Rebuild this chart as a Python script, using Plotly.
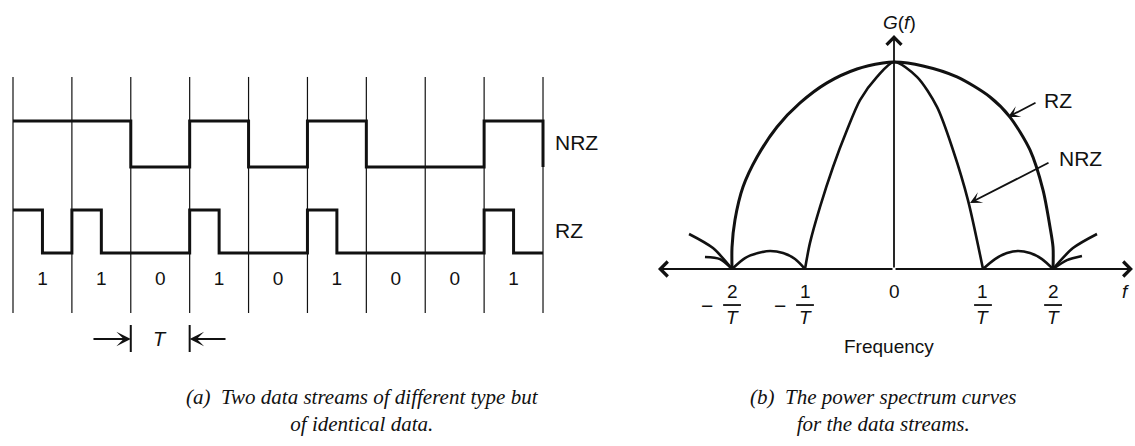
import plotly.graph_objects as go

# ---------------- data ----------------
BITS = [1, 1, 0, 1, 0, 1, 0, 0, 1]

# power spectrum curves (f in drawing units, 1/T = 1 ; G normalised to peak)
RZ_F = [-1.82, -1.82, -1.787, -1.697, -1.539, -1.315, -1.056, -0.753, -0.416, -0.124, 0.0,
        0.326, 0.708, 1.079, 1.303, 1.528, 1.674, 1.753, 1.787, 1.787]
RZ_G = [0.0, 0.106, 0.237, 0.396, 0.541, 0.686, 0.802, 0.899, 0.966, 0.995, 1.0,
        0.981, 0.928, 0.831, 0.734, 0.575, 0.382, 0.203, 0.106, 0.0]

NRZ_F = [-1.0, -0.944, -0.831, -0.685, -0.528, -0.382, -0.191, 0.0,
         0.258, 0.483, 0.663, 0.831, 1.0]
NRZ_G = [0.0, 0.126, 0.300, 0.493, 0.671, 0.816, 0.928, 1.0,
         0.928, 0.783, 0.575, 0.333, 0.0]

LOBE_L_F = [-1.82, -1.674, -1.528, -1.393, -1.247, -1.112, -1.0]
LOBE_L_G = [0.0, 0.053, 0.077, 0.087, 0.077, 0.048, 0.0]
LOBE_R_F = [1.0, 1.135, 1.270, 1.393, 1.528, 1.663, 1.787]
LOBE_R_G = [0.0, 0.048, 0.077, 0.087, 0.077, 0.048, 0.0]

OUT_L1_F = [-2.303, -2.034, -1.82]
OUT_L1_G = [0.169, 0.101, 0.0]
OUT_L2_F = [-2.124, -1.955, -1.82]
OUT_L2_G = [0.058, 0.048, 0.0]
OUT_R1_F = [1.787, 2.011, 2.281]
OUT_R1_G = [0.0, 0.101, 0.169]
OUT_R2_F = [1.787, 1.944, 2.112]
OUT_R2_G = [0.0, 0.043, 0.063]

TICK_F = [-1.82, -1.0, 0.0, 1.0, 1.787]
TICK_SIGN = ["\u2212", "\u2212", "", "", ""]
TICK_NUM = ["2", "1", "0", "1", "2"]
TICK_DEN = ["T", "T", "", "T", "T"]

# ---------------- styling constants ----------------
W, H = 1135, 446
SANS = "Liberation Sans, Arial, sans-serif"
SERIF = "Liberation Serif, Times New Roman, serif"
INK = "#111111"

RZ_BASE = -1.87
RZ_AMP = 0.935
GRID_TOP, GRID_BOT = 1.957, -3.174
LABEL_Y = -2.457
T_Y = -3.74

fig = go.Figure()

# ---------- panel (a): waveforms ----------
n = len(BITS)
gx, gy = [], []
for i in range(n + 1):
    gx += [i, i, None]
    gy += [GRID_TOP, GRID_BOT, None]
fig.add_trace(go.Scatter(x=gx, y=gy, mode="lines", line=dict(color=INK, width=1.2),
                         xaxis="x", yaxis="y", hoverinfo="skip"))

# NRZ
nx = list(range(n)) + [n, n]
ny = [b * 1.0 for b in BITS] + [BITS[-1] * 1.0, 0.0]
fig.add_trace(go.Scatter(x=nx, y=ny, mode="lines", line=dict(color=INK, width=3, shape="hv"),
                         xaxis="x", yaxis="y"))

# RZ
rx, ry = [], []
for i, b in enumerate(BITS):
    rx += [i, i + 0.5]
    ry += [RZ_BASE + RZ_AMP * b, RZ_BASE]
rx.append(n)
ry.append(RZ_BASE)
fig.add_trace(go.Scatter(x=rx, y=ry, mode="lines", line=dict(color=INK, width=3, shape="hv"),
                         xaxis="x", yaxis="y"))

# bit labels
fig.add_trace(go.Scatter(x=[i + 0.5 for i in range(n)], y=[LABEL_Y] * n, mode="text",
                         text=[str(b) for b in BITS],
                         textfont=dict(family=SANS, size=19, color=INK),
                         xaxis="x", yaxis="y"))

# T markers
fig.add_trace(go.Scatter(x=[2, 2, None, 3, 3], y=[-3.435, -4.022, None, -3.435, -4.022],
                         mode="lines", line=dict(color=INK, width=2), xaxis="x", yaxis="y"))

annotations = []
annotations.append(dict(x=9.17, y=0.543, xref="x", yref="y", text="NRZ", showarrow=False,
                        xanchor="left", yanchor="middle", font=dict(family=SANS, size=21, color=INK)))
annotations.append(dict(x=9.17, y=-1.37, xref="x", yref="y", text="RZ", showarrow=False,
                        xanchor="left", yanchor="middle", font=dict(family=SANS, size=21, color=INK)))
annotations.append(dict(x=2.5, y=T_Y, xref="x", yref="y", text="<i>T</i>", showarrow=False,
                        font=dict(family=SANS, size=20, color=INK)))
for head, tail in [(2.0, 1.341), (3.0, 3.634)]:
    annotations.append(dict(x=head, y=T_Y, ax=tail, ay=T_Y, xref="x", yref="y", axref="x", ayref="y",
                            text="", showarrow=True, arrowhead=3, arrowsize=1.2, arrowwidth=2,
                            arrowcolor=INK, standoff=0))

# ---------- panel (b): spectrum ----------
def curve(fx, gy_, w):
    fig.add_trace(go.Scatter(x=fx, y=gy_, mode="lines",
                             line=dict(color=INK, width=w, shape="spline", smoothing=0.8),
                             xaxis="x2", yaxis="y2"))

curve(RZ_F, RZ_G, 3)
curve(NRZ_F, NRZ_G, 2.6)
curve(LOBE_L_F, LOBE_L_G, 2.6)
curve(LOBE_R_F, LOBE_R_G, 2.6)
curve(OUT_L1_F, OUT_L1_G, 2.6)
curve(OUT_L2_F, OUT_L2_G, 2.6)
curve(OUT_R1_F, OUT_R1_G, 2.6)
curve(OUT_R2_F, OUT_R2_G, 2.6)

# axes with arrows
for hx, hy in [(-2.652, 0.0), (2.685, 0.0), (0.0, 1.13)]:
    annotations.append(dict(x=hx, y=hy, ax=0.0, ay=0.0, xref="x2", yref="y2", axref="x2", ayref="y2",
                            text="", showarrow=True, arrowhead=4, arrowsize=1.6, arrowwidth=1.8,
                            arrowcolor=INK, standoff=0))

# pointer arrows
annotations.append(dict(x=1.281, y=0.734, ax=1.607, ay=0.807, xref="x2", yref="y2", axref="x2", ayref="y2",
                        text="", showarrow=True, arrowhead=3, arrowsize=1.1, arrowwidth=1.8,
                        arrowcolor=INK, standoff=0))
annotations.append(dict(x=0.854, y=0.319, ax=1.753, ay=0.517, xref="x2", yref="y2", axref="x2", ayref="y2",
                        text="", showarrow=True, arrowhead=3, arrowsize=1.1, arrowwidth=1.8,
                        arrowcolor=INK, standoff=0))
annotations.append(dict(x=1.663, y=0.816, xref="x2", yref="y2", text="RZ", showarrow=False,
                        xanchor="left", yanchor="middle", font=dict(family=SANS, size=21, color=INK)))
annotations.append(dict(x=1.831, y=0.536, xref="x2", yref="y2", text="NRZ", showarrow=False,
                        xanchor="left", yanchor="middle", font=dict(family=SANS, size=21, color=INK)))

annotations.append(dict(x=0.067, y=1.193, xref="x2", yref="y2", text="<i>G</i>(<i>f</i>)", showarrow=False,
                        font=dict(family=SANS, size=19, color=INK)))
annotations.append(dict(x=-0.056, y=-0.372, xref="x2", yref="y2", text="Frequency", showarrow=False,
                        font=dict(family=SANS, size=19, color=INK)))
annotations.append(dict(x=2.6, y=-0.111, xref="x2", yref="y2", text="<i>f</i>", showarrow=False,
                        font=dict(family=SANS, size=19, color=INK)))

# tick labels as fractions
shapes = []
for f, s, num, den in zip(TICK_F, TICK_SIGN, TICK_NUM, TICK_DEN):
    if den:
        annotations.append(dict(x=f, y=-0.111, xref="x2", yref="y2", text=num, showarrow=False,
                                font=dict(family=SANS, size=19, color=INK)))
        annotations.append(dict(x=f, y=-0.232, xref="x2", yref="y2", text="<i>" + den + "</i>",
                                showarrow=False, font=dict(family=SANS, size=19, color=INK)))
        shapes.append(dict(type="line", xref="x2", yref="y2", x0=f - 0.1, x1=f + 0.1,
                           y0=-0.174, y1=-0.174, line=dict(color=INK, width=1.8)))
        if s:
            annotations.append(dict(x=f - 0.28, y=-0.174, xref="x2", yref="y2", text=s, showarrow=False,
                                    font=dict(family=SANS, size=21, color=INK)))
    else:
        annotations.append(dict(x=f, y=-0.111, xref="x2", yref="y2", text=num, showarrow=False,
                                font=dict(family=SANS, size=19, color=INK)))

# captions
annotations.append(dict(x=362 / W, y=0.0785, xref="paper", yref="paper",
                        text="<i>(a)\u00a0 Two data streams of different type but<br>of identical data.</i>",
                        showarrow=False, align="center", xanchor="center", yanchor="middle",
                        font=dict(family=SERIF, size=21, color=INK)))
annotations.append(dict(x=883 / W, y=0.0785, xref="paper", yref="paper",
                        text="<i>(b)\u00a0 The power spectrum curves<br>for the data streams.</i>",
                        showarrow=False, align="center", xanchor="center", yanchor="middle",
                        font=dict(family=SERIF, size=21, color=INK)))

hidden = dict(visible=False, showgrid=False, zeroline=False, fixedrange=True)
fig.update_layout(
    width=W, height=H, margin=dict(l=0, r=0, t=0, b=0),
    paper_bgcolor="white", plot_bgcolor="white", showlegend=False,
    xaxis=dict(domain=[0, 620 / W], range=[-0.2208, 10.3074], **hidden),
    yaxis=dict(domain=[0, 1], range=[-6.065, 3.630], **hidden),
    xaxis2=dict(domain=[640 / W, 1], range=[-2.854, 2.708], anchor="y2", **hidden),
    yaxis2=dict(domain=[0, 1], range=[-0.855, 1.2995], anchor="x2", **hidden),
    annotations=annotations, shapes=shapes,
)

fig.write_html("out.html", config={"displayModeBar": False},
               post_script="document.body.style.margin='0';document.body.style.overflow='hidden';")
